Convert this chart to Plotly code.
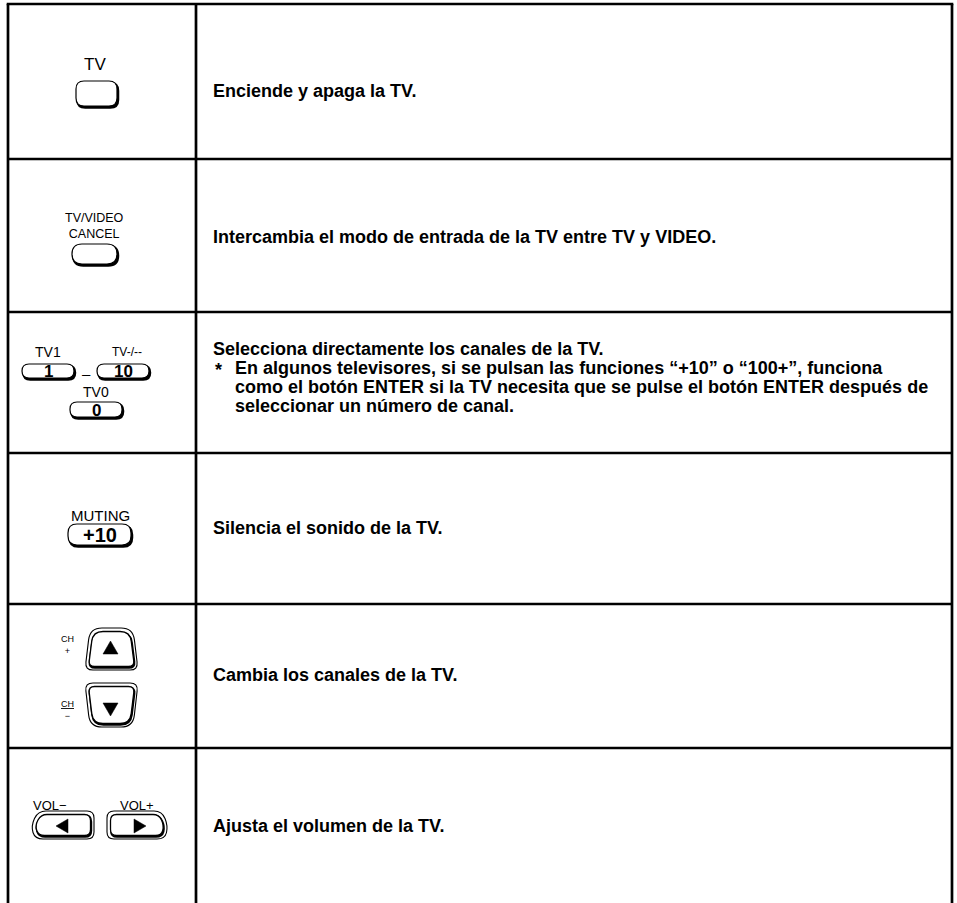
import plotly.graph_objects as go

# ---- table content ----
descriptions = [
    "Enciende y apaga la TV.",
    "Intercambia el modo de entrada de la TV entre TV y VIDEO.",
    "Selecciona directamente los canales de la TV.",
    "Silencia el sonido de la TV.",
    "Cambia los canales de la TV.",
    "Ajusta el volumen de la TV.",
]
note_lines = [
    "En algunos televisores, si se pulsan las funciones \u201c+10\u201d o \u201c100+\u201d, funciona",
    "como el botón ENTER si la TV necesita que se pulse el botón ENTER después de",
    "seleccionar un número de canal.",
]
button_labels = ["TV", "TV/VIDEO", "CANCEL", "TV1", "TV-/--", "TV0", "MUTING", "CH", "VOL\u2212", "VOL+"]
key_texts = ["1", "10", "0", "+10"]

W, H = 957, 903
row_edges = [4, 159, 312, 453, 604, 748, 903]
LEFT, MID, RIGHT = 8, 196, 952

DESC_FONT = "Liberation Sans, Arial, Helvetica, sans-serif"
LBL_FONT = "Liberation Sans, Arial, Helvetica, sans-serif"

shapes = []
annots = []


def line(x0, y0, x1, y1, w=2.7):
    shapes.append(dict(type="line", x0=x0, y0=y0, x1=x1, y1=y1, xref="x", yref="y",
                       line=dict(color="black", width=w)))


def rpoly(pts, r):
    n = len(pts)
    if not isinstance(r, (list, tuple)):
        r = [r] * n
    starts, ends = [], []
    for i in range(n):
        px, py = pts[i]
        ax, ay = pts[i - 1]
        bx, by = pts[(i + 1) % n]
        da = ((ax - px) ** 2 + (ay - py) ** 2) ** 0.5
        db = ((bx - px) ** 2 + (by - py) ** 2) ** 0.5
        ra = min(r[i], da / 2)
        rb = min(r[i], db / 2)
        starts.append((px + (ax - px) * ra / da, py + (ay - py) * ra / da))
        ends.append((px + (bx - px) * rb / db, py + (by - py) * rb / db))
    p = f"M{starts[0][0]:.2f},{starts[0][1]:.2f} "
    for i in range(n):
        if i > 0:
            p += f"L{starts[i][0]:.2f},{starts[i][1]:.2f} "
        p += f"Q{pts[i][0]:.2f},{pts[i][1]:.2f} {ends[i][0]:.2f},{ends[i][1]:.2f} "
    p += "Z"
    return p


def path(p, lw=1.2, fill="white", color="black"):
    shapes.append(dict(type="path", path=p, xref="x", yref="y", fillcolor=fill,
                       line=dict(color=color, width=lw)))


def shift(pts, dx, dy):
    return [(x + dx, y + dy) for x, y in pts]


def button(pts, r, shadow=1.8):
    path(rpoly(shift(pts, shadow * 0.7, shadow), r), lw=2.0, fill="black")
    path(rpoly(pts, r), lw=1.2, fill="white")


def rect_pts(x0, y0, x1, y1):
    return [(x0, y0), (x1, y0), (x1, y1), (x0, y1)]


def text(x, y, s, size=11, family=LBL_FONT, anchor="center", bold=False):
    annots.append(dict(x=x, y=y, xref="x", yref="y", text=(f"<b>{s}</b>" if bold else s),
                       showarrow=False, xanchor=anchor, yanchor="middle", borderpad=0,
                       font=dict(family=family, size=size, color="black")))


def tri(pts):
    p = "M" + " L".join(f"{x},{y}" for x, y in pts) + " Z"
    path(p, lw=0.5, fill="black")


# ---- grid ----
line(LEFT - 1.3, row_edges[0], RIGHT + 1.3, row_edges[0])
line(LEFT, row_edges[0], LEFT, H)
line(RIGHT, row_edges[0], RIGHT, H)
line(MID, row_edges[0], MID, H)
for y in row_edges[1:-1]:
    line(LEFT, y, RIGHT, y)

# ---- descriptions ----
DX = 212
FS = 18
desc_y = [91, 237, 349, 528, 675, 826]
for s, y in zip(descriptions, desc_y):
    text(DX, y, s, size=FS, family=DESC_FONT, anchor="left", bold=True)
text(DX + 2, 370, "*", size=FS, family=DESC_FONT, anchor="left", bold=True)
for i, s in enumerate(note_lines):
    text(DX + 22, 368 + 19 * i, s, size=FS, family=DESC_FONT, anchor="left", bold=True)

# ---- row 1: TV ----
text(95, 64, button_labels[0], size=17)
button(rect_pts(76, 81, 117, 106), 8)

# ---- row 2: TV/VIDEO CANCEL (one two-line label) ----
text(94, 226, button_labels[1] + "<br>" + button_labels[2], size=12.5)
button(rect_pts(72, 244, 117, 264), 10)

# ---- row 3: digits ----
text(48, 352, button_labels[3], size=14)
text(127, 352, button_labels[4], size=12)
text(96, 392, button_labels[5], size=14)
button(rect_pts(22, 364, 74, 378), 7)
button(rect_pts(97, 364, 149, 378), 7)
button(rect_pts(70, 402, 122, 417), 7)
text(48, 371.5, key_texts[0], size=17, bold=True)
text(123, 371.5, key_texts[1], size=17, bold=True)
text(96, 410, key_texts[2], size=17, bold=True)
text(86, 373, "\u2013", size=15)

# ---- row 4: MUTING ----
text(100, 515, button_labels[6], size=15)
button(rect_pts(68, 524, 131, 545), 9)
text(100, 535, key_texts[3], size=20, bold=True)

# ---- row 5: CH up / down ----
up_outer = [(90, 628), (133, 628), (138, 670), (85, 670)]
up_inner = [(93, 631.5), (130, 631.5), (134.5, 666.5), (88.5, 666.5)]
dn_outer = [(85, 683), (138, 683), (133, 727), (90, 727)]
dn_inner = [(88.5, 686.5), (134.5, 686.5), (130, 723.5), (93, 723.5)]
path(rpoly(up_outer, [12, 12, 8, 8]), lw=1.1)
path(rpoly(shift(up_inner, 0.5, 1.2), [10, 10, 6, 6]), lw=2.2, fill="black")
path(rpoly(up_inner, [10, 10, 6, 6]), lw=1.3)
path(rpoly(dn_outer, [8, 8, 12, 12]), lw=1.1)
path(rpoly(shift(dn_inner, 0.5, 1.2), [6, 6, 10, 10]), lw=2.2, fill="black")
path(rpoly(dn_inner, [6, 6, 10, 10]), lw=1.3)
tri([(103, 654), (118, 654), (110.5, 641)])
tri([(103, 703), (118, 703), (110.5, 716)])
text(67.5, 645, button_labels[7] + "<br>+", size=9)
text(67.5, 710, "<u>" + button_labels[7] + "</u><br>\u2212", size=9)

# ---- row 6: VOL ----
l_outer = [(38, 811), (94, 811), (94, 839), (35, 839), (31, 826)]
l_inner = [(41, 814.5), (90.5, 814.5), (90.5, 835.5), (38.5, 835.5), (35, 825.5)]
r_outer = [(107, 811), (162, 811), (168, 826), (165, 839), (107, 839)]
r_inner = [(110.5, 814.5), (159, 814.5), (164, 825.5), (161.5, 835.5), (110.5, 835.5)]
path(rpoly(l_outer, [8, 7, 7, 8, 8]), lw=1.1)
path(rpoly(shift(l_inner, 0.6, 1.2), 6), lw=2.2, fill="black")
path(rpoly(l_inner, 6), lw=1.3)
path(rpoly(r_outer, [7, 8, 8, 8, 7]), lw=1.1)
path(rpoly(shift(r_inner, 0.6, 1.2), 6), lw=2.2, fill="black")
path(rpoly(r_inner, 6), lw=1.3)
tri([(56, 826), (68, 819), (68, 833)])
tri([(146, 826), (134, 819), (134, 833)])
text(50, 805, button_labels[8], size=13)
text(137, 805, button_labels[9], size=13)

fig = go.Figure()
fig.update_layout(
    width=W, height=H, margin=dict(l=0, r=0, t=0, b=0),
    paper_bgcolor="white", plot_bgcolor="white",
    xaxis=dict(range=[0, W], visible=False, fixedrange=True),
    yaxis=dict(range=[H, 0], visible=False, fixedrange=True),
    shapes=shapes, annotations=annots, showlegend=False,
)
fig.write_html("out.html", config={"displayModeBar": False},
               post_script="document.body.style.margin='0';document.body.style.overflow='hidden';")
